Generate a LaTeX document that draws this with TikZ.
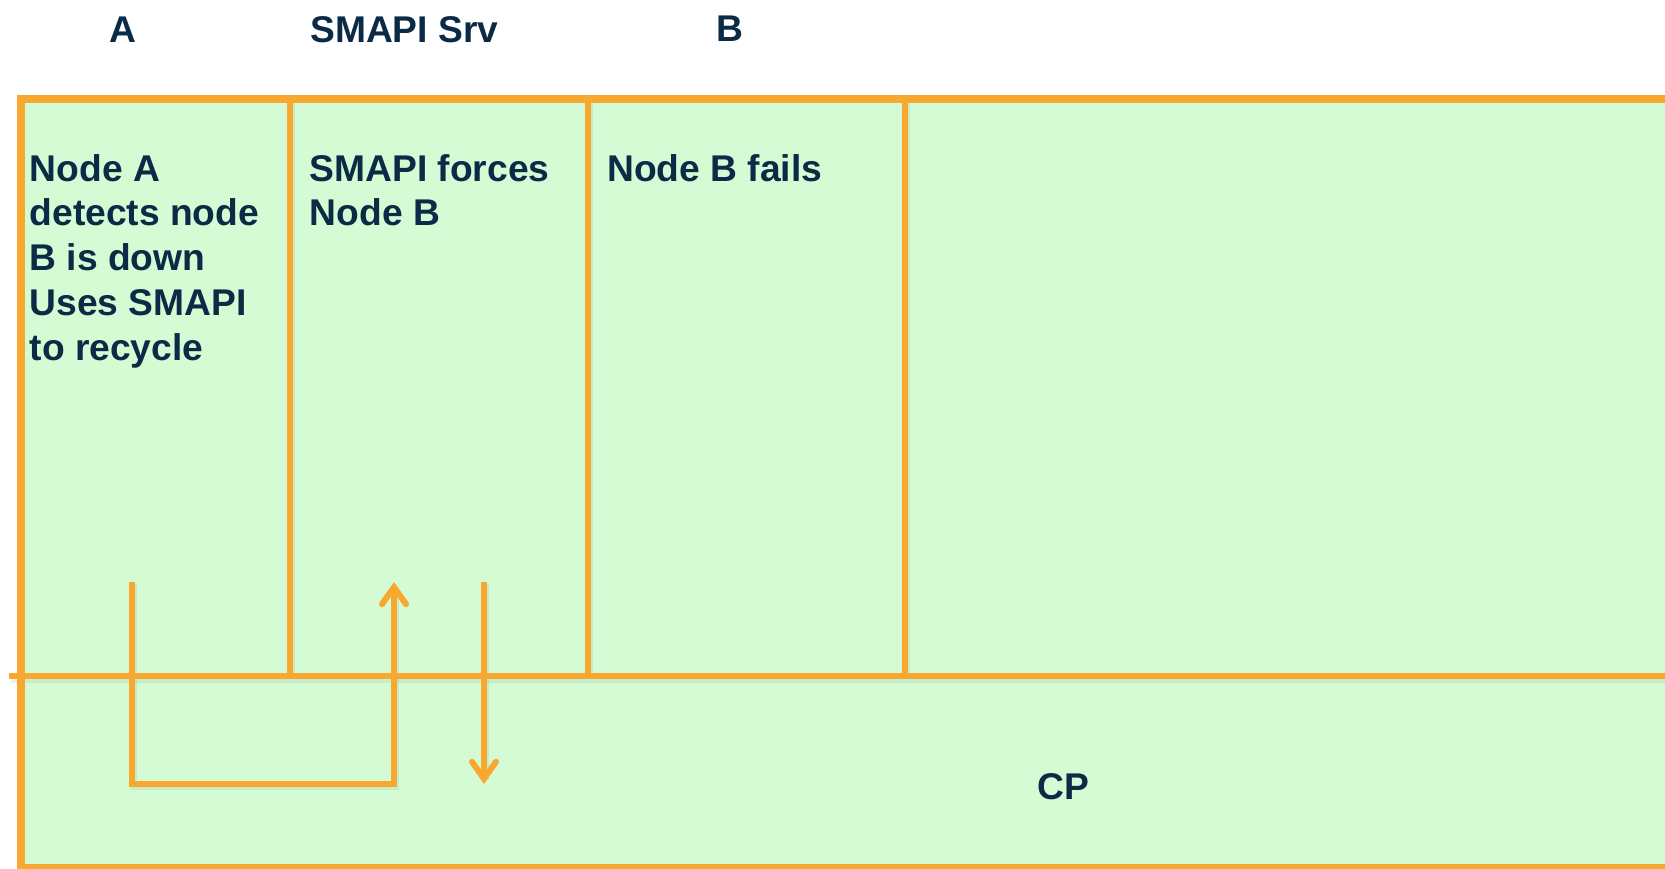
\documentclass[tikz,border=0pt]{standalone}
\usepackage{fontspec}
\setmainfont{Liberation Sans}
\usetikzlibrary{arrows.meta}
\definecolor{frame}{HTML}{F8A82F}
\definecolor{pane}{HTML}{D4FBD4}
\definecolor{ink}{HTML}{0A2A45}
\begin{document}
\begin{tikzpicture}[x=1pt,y=-1pt,
  lbl/.style={font=\fontsize{37.2}{44.9}\selectfont\bfseries, text=ink, inner sep=0pt, align=left},
  border/.style={draw=frame, line width=8pt},
  divider/.style={draw=frame, line width=6pt},
  flow/.style={draw=frame, line width=6pt},
  tip/.style={-{Straight Barb[length=17pt,width=24pt,line cap=round]}}
]
\useasboundingbox (0,0) rectangle (1665,868);
% background panel
\fill[pane] (20.5,99) rectangle (1670,872);
% shadows
\begin{scope}[gray, opacity=0.13, line width=6pt]
  \draw (11,679.5) -- (1670,679.5);
  \draw (292,103) -- (292,678);
  \draw (590,103) -- (590,678);
  \draw (906.5,103) -- (906.5,678);
  \draw (134,585) -- (134,787) -- (396,787) -- (396,590);
  \draw (486,585) -- (486,780);
\end{scope}
% frame lines
\path[border] (1670,99) -- (20.5,99) -- (20.5,868) -- (1670,868);
\path[divider] (9,675.5) -- (1670,675.5);
\coordinate (d1t) at (290,99);   \coordinate (d1b) at (290,675.5);
\coordinate (d2t) at (588,99);   \coordinate (d2b) at (588,675.5);
\coordinate (d3t) at (904.5,99); \coordinate (d3b) at (904.5,675.5);
\path[divider] (d1t) -- (d1b);
\path[divider] (d2t) -- (d2b);
\path[divider] (d3t) -- (d3b);
% headers
\node[lbl, anchor=base west] (hA) at (109,42) {A};
\node[lbl, anchor=base west] (hS) at (310,42) {SMAPI Srv};
\node[lbl, anchor=base west] (tBh) at (716,41) {B};
% column texts (base anchor = last line's baseline)
\node[lbl, anchor=base west] (tA) at (29.5,360.6) {Node A\\detects node\\B is down\\Uses SMAPI\\to recycle};
\node[lbl, anchor=base west] (tS) at (309.5,225.9) {SMAPI forces\\Node B};
\node[lbl, anchor=base west] (tB) at (607,181) {Node B fails};
\node[lbl, anchor=base] (cp) at (1063,799) {CP};
% connectors
\coordinate (a1) at (132,582);
\coordinate (a2) at (132,784);
\coordinate (a3) at (394,784);
\coordinate (a4) at (394,582);
\coordinate (b1) at (484,582);
\coordinate (b2) at (484,784);
\path[flow, tip] (a1) -- (a2) -- (a3) -- (a4);
\path[flow, tip] (b1) -- (b2);
\end{tikzpicture}
\end{document}
